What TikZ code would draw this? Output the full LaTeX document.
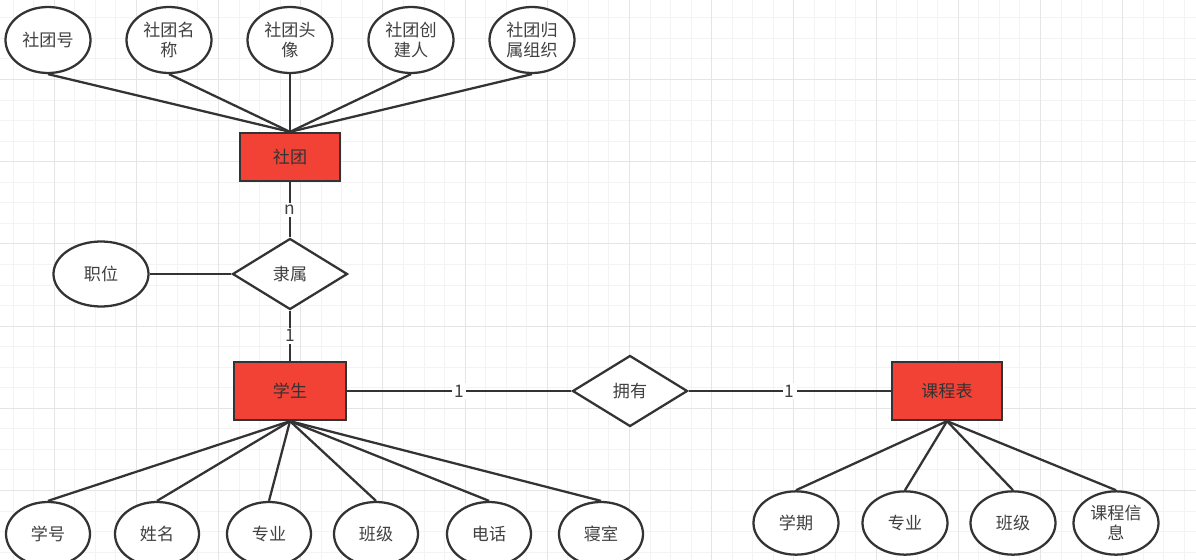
\documentclass[tikz,border=0pt]{standalone}
\usepackage{fontspec}
\setmainfont{Noto Sans CJK SC}
\usepackage{xcolor}
\usepackage{tikz}
\usetikzlibrary{shapes.geometric}
\definecolor{erred}{RGB}{242,66,54}
\definecolor{erline}{RGB}{51,51,51}
\definecolor{ertext}{RGB}{64,64,64}
\definecolor{gridminor}{RGB}{243,243,243}
\definecolor{gridmajor}{RGB}{229,229,229}

\begin{document}
\begin{tikzpicture}[
  x=0.75pt, y=-0.75pt,
  entity/.style={rectangle, draw=erline, fill=erred, line width=1.7pt,
    font=\fontsize{12.8}{15}\selectfont, text=erline, inner sep=0pt},
  attr/.style={ellipse, draw=erline, fill=white, line width=1.7pt,
    minimum width=63.75pt, minimum height=49.5pt, inner sep=0pt,
    font=\fontsize{12.8}{15}\selectfont, text=ertext, align=center},
  rel/.style={diamond, draw=erline, fill=white, line width=1.7pt,
    minimum width=86.25pt, minimum height=53.25pt, inner sep=0pt,
    font=\fontsize{12.8}{15}\selectfont, text=ertext},
  card/.style={fill=white, inner sep=1.5pt, text=ertext,
    font=\fontsize{13}{15}\selectfont},
  conn/.style={draw=erline, line width=1.7pt}
]

% background grid
\useasboundingbox (0,0) rectangle (1196,560);
\fill[white] (0,0) rectangle (1196,560);
\foreach \x in {13,33.55,...,1196}
  \draw[gridminor, line width=0.75pt] (\x,0) -- (\x,560);
\foreach \y in {17.85,38.4,...,560}
  \draw[gridminor, line width=0.75pt] (0,\y) -- (1196,\y);
\foreach \x in {54.1,136.3,...,1196}
  \draw[gridmajor, line width=0.75pt] (\x,0) -- (\x,560);
\foreach \y in {79.5,161.7,...,560}
  \draw[gridmajor, line width=0.75pt] (0,\y) -- (1196,\y);

% entities
\node[entity, minimum width=75pt, minimum height=36pt] (st) at (290,157) {社团};
\node[entity, minimum width=84pt, minimum height=43.5pt] (stu) at (290,391) {学生};
\node[entity, minimum width=82.5pt, minimum height=43.5pt] (kcb) at (947,391) {课程表};

% relations
\node[rel] (ls) at (290,274) {隶属};
\node[rel] (yy) at (630,391) {拥有};

% club attributes
\node[attr] (sth) at (48,40) {社团号};
\node[attr] (stmc) at (169,40) {社团名\\称};
\node[attr] (sttx) at (290,40) {社团头\\像};
\node[attr] (stcj) at (411,40) {社团创\\建人};
\node[attr] (stgs) at (532,40) {社团归\\属组织};

% relation attribute
\node[attr, minimum width=71.25pt, minimum height=48.75pt] (zw) at (101,274) {职位};

% student attributes
\node[attr, minimum width=63pt, minimum height=48pt] (xh) at (48,534) {学号};
\node[attr, minimum width=63pt, minimum height=48pt] (xm) at (157,534) {姓名};
\node[attr, minimum width=63pt, minimum height=48pt] (zy) at (269,534) {专业};
\node[attr, minimum width=63pt, minimum height=48pt] (bj) at (376,534) {班级};
\node[attr, minimum width=63pt, minimum height=48pt] (dh) at (489,534) {电话};
\node[attr, minimum width=63pt, minimum height=48pt] (qs) at (601,534) {寝室};

% timetable attributes
\node[attr, minimum width=63.75pt, minimum height=47.5pt] (xq) at (796,523) {学期};
\node[attr, minimum width=63.75pt, minimum height=47.5pt] (kzy) at (905,523) {专业};
\node[attr, minimum width=63.75pt, minimum height=47.5pt] (kbj) at (1013,523) {班级};
\node[attr, minimum width=63.75pt, minimum height=47.5pt] (kxx) at (1116,523) {课程信\\息};

% connectors
\foreach \a in {sth,stmc,sttx,stcj,stgs}
  \draw[conn] (\a.south) -- (st.north);
\foreach \a in {xh,xm,zy,bj,dh,qs}
  \draw[conn] (stu.south) -- (\a.north);
\foreach \a in {xq,kzy,kbj,kxx}
  \draw[conn] (kcb.south) -- (\a.north);

\draw[conn] (zw) -- (ls);
\draw[conn] (st) -- node[card] {n} (ls);
\draw[conn] (ls) -- node[card] {1} (stu);
\draw[conn] (stu) -- node[card] {1} (yy);
\draw[conn] (yy) -- node[card] {1} (kcb);

\end{tikzpicture}
\end{document}
